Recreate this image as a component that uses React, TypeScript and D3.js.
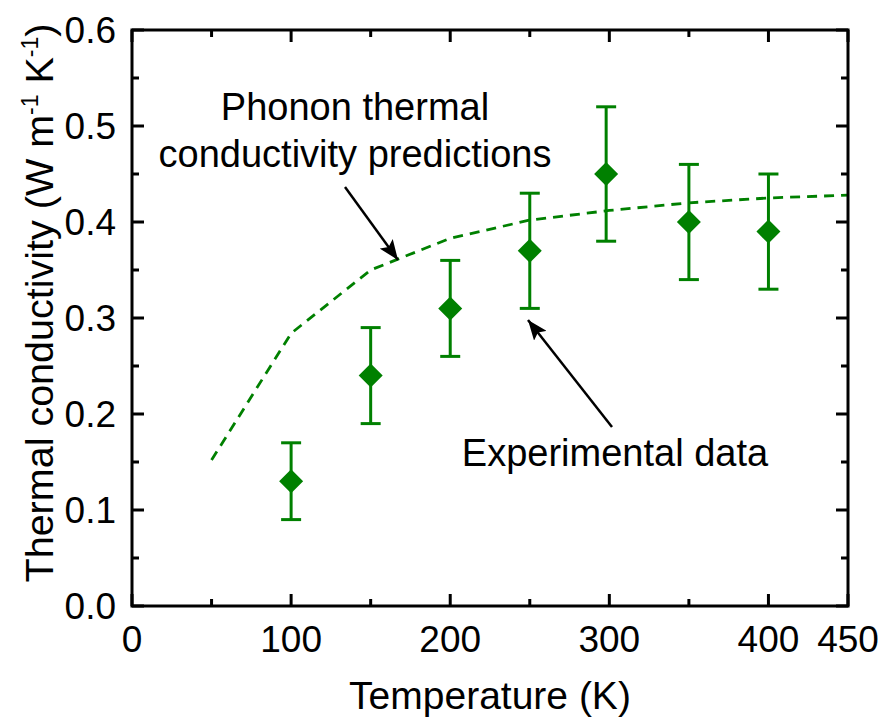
import React from "react";
import * as d3 from "d3";

// Experimental data
const expT = [100, 150, 200, 250, 298, 350, 400];
const expK = [0.13, 0.24, 0.31, 0.37, 0.45, 0.4, 0.39];
const expLo = [0.09, 0.19, 0.26, 0.31, 0.38, 0.34, 0.33];
const expHi = [0.17, 0.29, 0.36, 0.43, 0.52, 0.46, 0.45];

// Phonon prediction curve
const predT = [50, 100, 150, 200, 250, 300, 350, 400, 450];
const predK = [0.152, 0.284, 0.35, 0.383, 0.402, 0.412, 0.42, 0.425, 0.428];

const xMajor = [0, 100, 200, 300, 400, 450];
const xMinor = [50, 150, 250, 350];
const yMajor = [0, 0.1, 0.2, 0.3, 0.4, 0.5, 0.6];
const yMinor = [0.05, 0.15, 0.25, 0.35, 0.45, 0.55];

const W = 886;
const H = 723;
const margin = { left: 132, right: 38, top: 30, bottom: 117 };
const GREEN = "#008000";
const FONT = "'Liberation Sans', Arial, sans-serif";

export default function App() {
  const x = d3.scaleLinear().domain([0, 450]).range([margin.left, W - margin.right]);
  const y = d3.scaleLinear().domain([0, 0.6]).range([H - margin.bottom, margin.top]);
  const [x0, x1] = x.range();
  const [y0, y1] = y.range();

  const line = d3
    .line<number>()
    .x((_, i) => x(predT[i]))
    .y((d) => y(d));

  // square diamond marker, ~24px across
  const diamond = "M0,-12 L12,0 L0,12 L-12,0 Z";

  return (
    <svg width={W} height={H} style={{ position: "absolute", left: 0, top: 0 }} fontFamily={FONT}>
      <defs>
        <marker id="arrowhead" viewBox="0 0 20 16" refX="20" refY="8" markerWidth="20" markerHeight="16" orient="auto" markerUnits="userSpaceOnUse">
          <path d="M0,0 L20,8 L0,16 L4,8 z" fill="#000" />
        </marker>
      </defs>

      {/* prediction line */}
      <path d={line(predK) || ""} fill="none" stroke={GREEN} strokeWidth={2.8} strokeDasharray="10,7" />

      {/* error bars + markers */}
      {expT.map((t, i) => (
        <g key={t} stroke={GREEN} strokeWidth={3}>
          <line x1={x(t)} x2={x(t)} y1={y(expLo[i])} y2={y(expHi[i])} />
          <line x1={x(t) - 10} x2={x(t) + 10} y1={y(expLo[i])} y2={y(expLo[i])} />
          <line x1={x(t) - 10} x2={x(t) + 10} y1={y(expHi[i])} y2={y(expHi[i])} />
          <path d={diamond} transform={`translate(${x(t)},${y(expK[i])})`} fill={GREEN} stroke="none" />
        </g>
      ))}

      {/* frame */}
      <rect x={x0} y={y1} width={x1 - x0} height={y0 - y1} fill="none" stroke="#000" strokeWidth={3} />

      {/* ticks, inside, mirrored */}
      <g stroke="#000" strokeWidth={3}>
        {xMajor.map((v) => (
          <g key={"xM" + v}>
            <line x1={x(v)} x2={x(v)} y1={y0} y2={y0 - 12} />
            <line x1={x(v)} x2={x(v)} y1={y1} y2={y1 + 12} />
          </g>
        ))}
        {xMinor.map((v) => (
          <g key={"xm" + v}>
            <line x1={x(v)} x2={x(v)} y1={y0} y2={y0 - 7} />
            <line x1={x(v)} x2={x(v)} y1={y1} y2={y1 + 7} />
          </g>
        ))}
        {yMajor.map((v) => (
          <g key={"yM" + v}>
            <line x1={x0} x2={x0 + 12} y1={y(v)} y2={y(v)} />
            <line x1={x1} x2={x1 - 12} y1={y(v)} y2={y(v)} />
          </g>
        ))}
        {yMinor.map((v) => (
          <g key={"ym" + v}>
            <line x1={x0} x2={x0 + 7} y1={y(v)} y2={y(v)} />
            <line x1={x1} x2={x1 - 7} y1={y(v)} y2={y(v)} />
          </g>
        ))}
      </g>

      {/* tick labels */}
      <g fontSize={37} fill="#000">
        {xMajor.map((v) => (
          <text key={"xl" + v} x={x(v)} y={y0 + 46} textAnchor="middle">
            {v}
          </text>
        ))}
        {yMajor.map((v) => (
          <text key={"yl" + v} x={x0 - 16} y={y(v) + 13} textAnchor="end">
            {d3.format(".1f")(v)}
          </text>
        ))}
      </g>

      {/* axis titles */}
      <text x={(x0 + x1) / 2} y={709} textAnchor="middle" fontSize={39}>
        Temperature (K)
      </text>
      <text transform={`translate(53,${303}) rotate(-90)`} textAnchor="middle" fontSize={39.5}>
        Thermal conductivity (W m
        <tspan fontSize={23} dy={-15}>-1</tspan>
        <tspan dy={15}> K</tspan>
        <tspan fontSize={23} dy={-15}>-1</tspan>
        <tspan dy={15}>)</tspan>
      </text>

      {/* annotations */}
      <text x={355} y={120} textAnchor="middle" fontSize={38}>
        Phonon thermal
      </text>
      <text x={355} y={167} textAnchor="middle" fontSize={38}>
        conductivity predictions
      </text>
      <line x1={345} y1={187} x2={398} y2={260} stroke="#000" strokeWidth={2.5} markerEnd="url(#arrowhead)" />

      <text x={615} y={466} textAnchor="middle" fontSize={38}>
        Experimental data
      </text>
      <line x1={612} y1={427} x2={528} y2={320} stroke="#000" strokeWidth={2.5} markerEnd="url(#arrowhead)" />
    </svg>
  );
}
